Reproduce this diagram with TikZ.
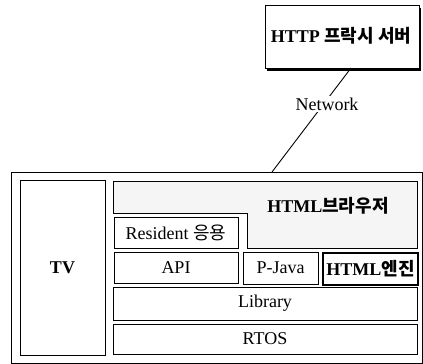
\documentclass[tikz,border=0pt]{standalone}
\usepackage{fontspec}
\setmainfont{Liberation Serif}
\newfontfamily\kr{Noto Sans CJK KR}
\begin{document}
\begin{tikzpicture}[x=1pt,y=-1pt,
  box/.style={draw, line width=0.9pt, inner sep=0pt, minimum width=#1},
  lbl/.style={inner sep=0pt},
  every node/.append style={font=\fontsize{18}{20}\selectfont}]
\useasboundingbox (0,0) rectangle (423,364);
% proxy server with shadow
\fill (267,7.5) rectangle (421,70.5);
\node[box=154pt, minimum height=63pt, fill=white] (proxy) at (342,36.5) {};
\node[lbl] (proxyt) at (341,36) {\bfseries HTTP {\kr\bfseries 프락시 서버}};
% network link
\coordinate (netA) at (351,68);
\coordinate (netB) at (272,172);
\draw[line width=0.9pt] (netA) -- (netB);
\node[fill=white, inner sep=1.5pt] (net) at (327,104) {Network};
% outer frame
\node[draw, line width=0.6pt, inner sep=0pt, minimum width=411pt, minimum height=191pt] (frame) at (216.5,267.5) {};
\node[box=85pt, minimum height=175pt] (tv) at (62.5,267.5) {\bfseries TV};
% browser L-shape
\draw[line width=0.9pt, fill=black!4] (113,181) -- (417,181) -- (417,248) -- (247,248) -- (247,213) -- (113,213) -- cycle;
\node[lbl] (browser) at (328,206) {\bfseries HTML{\kr\bfseries 브라우저}};
\node[box=124pt, minimum height=31pt, fill=white] (resident) at (176,232.5) {Resident {\kr 응용}};
\node[box=124pt, minimum height=31pt] (api) at (176,267.5) {API};
\node[box=75pt, minimum height=32pt] (pjava) at (280.5,268) {P-Java};
\node[draw, line width=1.6pt, inner sep=0pt, minimum width=95pt, minimum height=32pt] (engine) at (370.5,269) {\bfseries HTML{\kr\bfseries 엔진}};
\node[box=304pt, minimum height=33pt] (library) at (265,303.5) {Library};
\node[box=304pt, minimum height=30pt] (rtos) at (265,339) {RTOS};
\end{tikzpicture}
\end{document}
